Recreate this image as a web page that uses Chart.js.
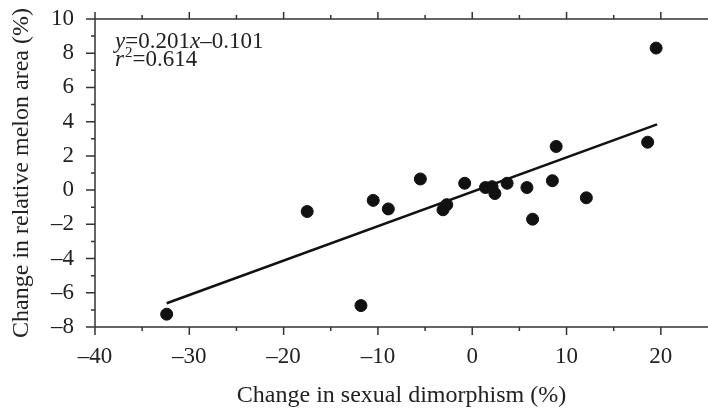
<!DOCTYPE html>
<html>
<head>
<meta charset="utf-8">
<script src="https://cdn.jsdelivr.net/npm/chart.js@4"></script>
<style>
  html, body { margin: 0; padding: 0; background: #fff; }
  #wrap { width: 708px; height: 408px; }
</style>
</head>
<body>
<div id="wrap"><canvas id="melonChart"></canvas></div>
<script>
// change in sexual dimorphism (%) vs change in relative melon area (%)
const dimorphism = [-32.4, -17.5, -11.8, -10.5, -8.9, -5.5, -3.1, -2.7, -0.8, 1.4,
                    2.1, 2.4, 3.7, 5.8, 6.4, 8.5, 8.9, 12.1, 18.6, 19.5];
const melonArea = [-7.25, -1.25, -6.75, -0.6, -1.1, 0.65, -1.15, -0.85, 0.4, 0.15,
                   0.2, -0.2, 0.4, 0.15, -1.7, 0.55, 2.55, -0.45, 2.8, 8.3];

// fitted line y = 0.201x - 0.101, drawn over the data range
const fitSlope = 0.201;
const fitIntercept = -0.101;
const fitRange = [-32.4, 19.6];

const xTicks = [-40, -30, -20, -10, 0, 10, 20];
const yTicks = [10, 8, 6, 4, 2, 0, -2, -4, -6, -8];

const serif = "'Liberation Serif', 'Times New Roman', serif";
const ink = '#222';
const dash = v => (v < 0 ? '\u2013' + Math.abs(v) : String(v));

const fitPoints = fitRange.map(x => ({ x: x, y: fitSlope * x + fitIntercept }));
const scatterPoints = dimorphism.map((x, i) => ({ x: x, y: melonArea[i] }));

// axis lines and major/minor ticks, drawn from the scales
const axisFrame = {
  id: 'axisFrame',
  afterDraw(chart) {
    const c = chart.ctx;
    const xs = chart.scales.x, ys = chart.scales.y;
    const a = chart.chartArea;
    c.save();
    c.strokeStyle = '#333';
    c.lineWidth = 1.5;
    c.beginPath();
    c.moveTo(a.left, a.top); c.lineTo(a.right, a.top);
    c.moveTo(a.left, a.top); c.lineTo(a.left, a.bottom);
    c.moveTo(a.left, a.bottom); c.lineTo(a.right, a.bottom);
    for (let v = -40; v <= 20; v += 5) {
      const px = xs.getPixelForValue(v);
      const major = v % 10 === 0;
      c.moveTo(px, a.bottom); c.lineTo(px, a.bottom + (major ? 8 : 4));
      c.moveTo(px, a.top); c.lineTo(px, a.top - (major ? 7 : 4));
    }
    for (let v = -8; v <= 10; v += 1) {
      const py = ys.getPixelForValue(v);
      const major = v % 2 === 0;
      c.moveTo(a.left, py); c.lineTo(a.left - (major ? 9 : 4), py);
    }
    c.stroke();

    // regression equation
    c.fillStyle = ink;
    c.textBaseline = 'alphabetic';
    const parts = [['y', true], ['=0.201', false], ['x', true], ['\u20130.101', false]];
    let tx = a.left + 20;
    parts.forEach(([t, it]) => {
      c.font = (it ? 'italic ' : '') + '23px ' + serif;
      c.fillText(t, tx, a.top + 29);
      tx += c.measureText(t).width;
    });
    tx = a.left + 20;
    c.font = 'italic 23px ' + serif;
    c.fillText('r', tx, a.top + 47);
    tx += c.measureText('r').width + 1;
    c.font = '15px ' + serif;
    c.fillText('2', tx, a.top + 38);
    tx += c.measureText('2').width;
    c.font = '23px ' + serif;
    c.fillText('=0.614', tx, a.top + 47);
    c.restore();
  }
};

new Chart(document.getElementById('melonChart'), {
  type: 'scatter',
  data: {
    datasets: [
      {
        type: 'line',
        data: fitPoints,
        borderColor: '#111',
        borderWidth: 2.5,
        pointRadius: 0,
        fill: false
      },
      {
        data: scatterPoints,
        backgroundColor: '#111',
        borderColor: '#111',
        pointRadius: 6,
        pointHoverRadius: 6
      }
    ]
  },
  options: {
    responsive: true,
    maintainAspectRatio: false,
    animation: false,
    layout: { autoPadding: false, padding: { top: 19, right: 0, left: 0, bottom: 0 } },
    plugins: { legend: { display: false }, tooltip: { enabled: false } },
    scales: {
      x: {
        type: 'linear',
        min: -40,
        max: 25,
        afterBuildTicks: s => { s.ticks = xTicks.map(v => ({ value: v })); },
        afterFit: s => { s.height = 81; s.paddingLeft = 0; s.paddingRight = 0; },
        grid: { display: false, drawTicks: false },
        border: { display: false },
        ticks: { padding: 16, color: ink, font: { family: serif, size: 23 }, callback: dash },
        title: {
          display: true,
          text: 'Change in sexual dimorphism (%)',
          color: ink,
          font: { family: serif, size: 24, lineHeight: 1 },
          padding: { top: 0, bottom: 0 }
        }
      },
      y: {
        type: 'linear',
        min: -8,
        max: 10,
        afterBuildTicks: s => { s.ticks = yTicks.map(v => ({ value: v })); },
        afterFit: s => { s.width = 95; s.paddingTop = 0; s.paddingBottom = 0; },
        grid: { display: false, drawTicks: false },
        border: { display: false },
        ticks: { padding: 21, color: ink, font: { family: serif, size: 23 }, callback: dash },
        title: {
          display: true,
          text: 'Change in relative melon area (%)',
          color: ink,
          font: { family: serif, size: 24, lineHeight: 1 },
          padding: { top: 10, bottom: 0 }
        }
      }
    }
  },
  plugins: [axisFrame]
});
</script>
</body>
</html>
